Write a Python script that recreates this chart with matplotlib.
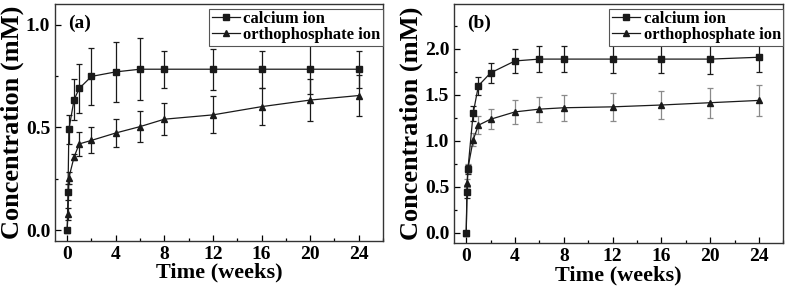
import numpy as np
import matplotlib
matplotlib.use("Agg")
import matplotlib.pyplot as plt
from matplotlib.ticker import MultipleLocator, FormatStrFormatter

plt.rcParams['font.family'] = ['Liberation Serif', 'DejaVu Serif']
plt.rcParams['font.weight'] = 'bold'

# time points (weeks)
weeks = [0, 0.07, 0.14, 0.57, 1, 2, 4, 6, 8, 12, 16, 20, 24]

# panel (a)
ca_a = [0, 0.185, 0.49, 0.635, 0.69, 0.748, 0.77, 0.783, 0.783, 0.783, 0.783, 0.783, 0.783]
ca_a_err = [0, 0.04, 0.07, 0.10, 0.12, 0.14, 0.145, 0.15, 0.09, 0.10, 0.09, 0.12, 0.09]
po_a = [0, 0.078, 0.255, 0.357, 0.42, 0.437, 0.473, 0.504, 0.54, 0.561, 0.601, 0.633, 0.655]
po_a_err = [0, 0.03, 0.03, 0.015, 0.06, 0.063, 0.07, 0.075, 0.077, 0.09, 0.09, 0.10, 0.10]

# panel (b)
ca_b = [0, 0.44, 0.69, 1.30, 1.60, 1.74, 1.87, 1.89, 1.89, 1.89, 1.89, 1.89, 1.91]
ca_b_err = [0, 0.06, 0.05, 0.08, 0.10, 0.11, 0.13, 0.14, 0.14, 0.15, 0.15, 0.16, 0.165]
po_b = [0, 0.54, 0.70, 1.01, 1.17, 1.235, 1.315, 1.345, 1.36, 1.37, 1.39, 1.415, 1.44]
po_b_err = [0, 0.04, 0.05, 0.07, 0.10, 0.11, 0.13, 0.135, 0.14, 0.15, 0.15, 0.165, 0.17]

labels = ['calcium ion', 'orthophosphate ion']

fig = plt.figure(figsize=(7.87, 2.92), dpi=100)
ax_a = fig.add_axes([0.0699, 0.1747, 0.4168, 0.8116])
ax_b = fig.add_axes([0.5769, 0.1668, 0.4184, 0.8195])


def draw(ax, ca, ca_err, po, po_err, po_ecolor, ylim, ymax_tick, tag):
    eb1 = ax.errorbar(weeks, ca, yerr=ca_err, color='#1a1a1a', ecolor='#1a1a1a',
                      marker='s', markersize=4.2, lw=0.9, elinewidth=0.9,
                      capsize=2.5, capthick=0.9)
    eb2 = ax.errorbar(weeks, po, yerr=po_err, color='#1a1a1a', ecolor=po_ecolor,
                      marker='^', markersize=4.8, lw=0.9, elinewidth=0.9,
                      capsize=2.5, capthick=0.9)
    ax.set_xlim(-1, 26)
    ax.set_ylim(*ylim)
    ax.set_xticks(np.arange(0, 25, 4))
    ax.xaxis.set_minor_locator(MultipleLocator(2))
    ax.set_yticks(np.arange(0, ymax_tick + 0.01, 0.5))
    ax.yaxis.set_minor_locator(MultipleLocator(0.25))
    ax.yaxis.set_major_formatter(FormatStrFormatter('%.1f'))
    ax.tick_params(which='both', direction='in', labelsize=14, width=0.9)
    ax.tick_params(which='major', length=4)
    ax.tick_params(which='minor', length=2.5)
    for lab in ax.get_xticklabels() + ax.get_yticklabels():
        lab.set_fontweight('bold')
    for sp in ax.spines.values():
        sp.set_linewidth(1.0)
        sp.set_color('#333333')
    ax.set_xlabel('Time (weeks)', fontsize=16, fontweight='bold', labelpad=0)
    ax.set_ylabel('Concentration (mM)', fontsize=19, fontweight='bold', labelpad=1)
    ax.text(0.04, 0.955, tag, transform=ax.transAxes, fontsize=14,
            fontweight='bold', va='top', ha='left')
    leg = ax.legend([eb1[0], eb2[0]], labels, loc='upper right',
                    bbox_to_anchor=(1.0, 0.98), borderaxespad=0,
                    frameon=True, fancybox=False, framealpha=1,
                    edgecolor='#555555', labelspacing=0.0, borderpad=0.15,
                    handletextpad=0.2, handlelength=1.7,
                    prop={'weight': 'bold', 'size': 12})
    leg.get_frame().set_linewidth(0.8)


draw(ax_a, ca_a, ca_a_err, po_a, po_a_err, '#1a1a1a', (-0.052, 1.1), 1.0, '(a)')
draw(ax_b, ca_b, ca_b_err, po_b, po_b_err, '#8a8a8a', (-0.116, 2.49), 2.0, '(b)')

fig.savefig('out.png', dpi=100)
